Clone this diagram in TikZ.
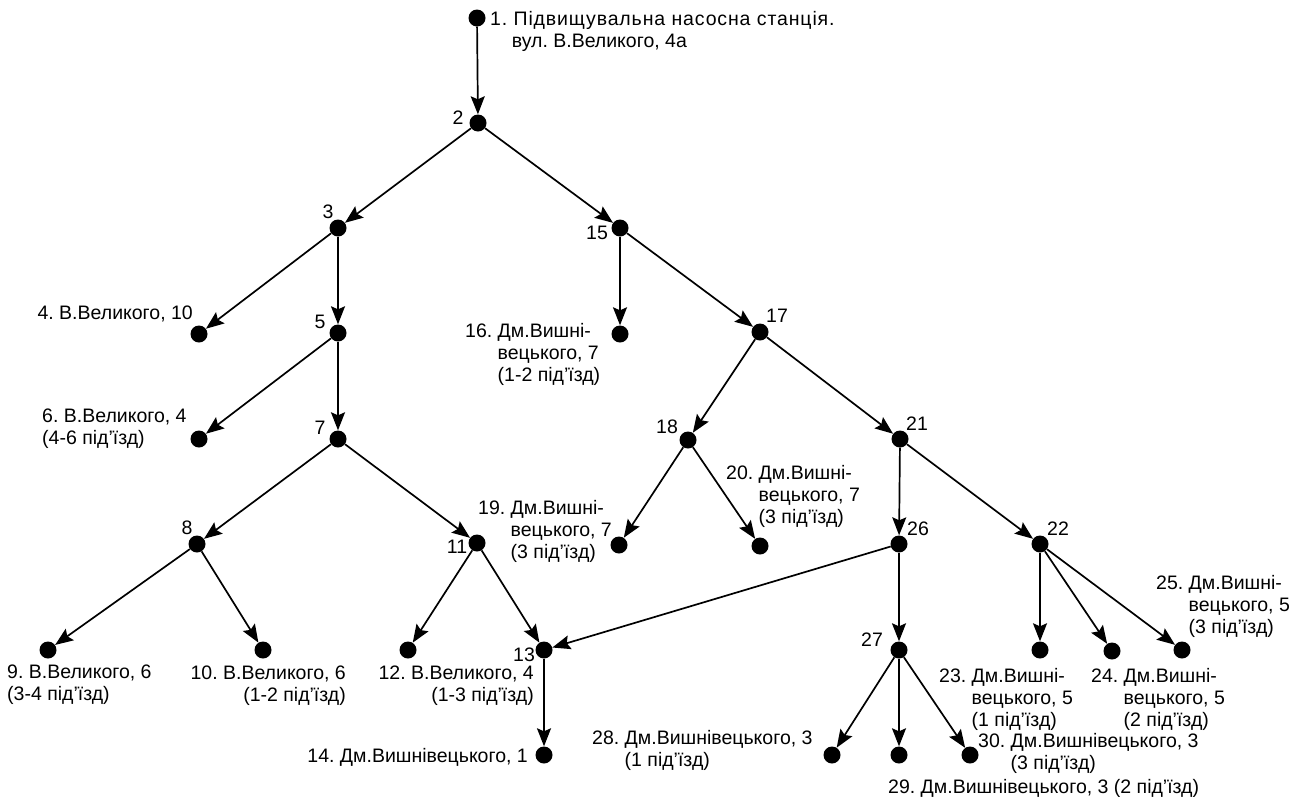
\documentclass[tikz,border=0pt]{standalone}
\usepackage{fontspec}
\setmainfont{Liberation Sans}
\usetikzlibrary{arrows.meta}
\frenchspacing
\begin{document}
\begin{tikzpicture}[x=1pt,y=-1pt,
  dot/.style={circle,fill=black,inner sep=0pt,minimum size=17pt},
  flow/.style={-{Stealth[length=18pt,width=14pt,inset=3pt]},line width=1.7pt},
  txt/.style={inner sep=0pt,font=\fontsize{19.5}{22}\selectfont,align=left},
  rtxt/.style={inner sep=0pt,font=\fontsize{19.5}{22}\selectfont,align=right},
  num/.style={inner sep=0pt,font=\fontsize{19.5}{22}\selectfont}]
\useasboundingbox (0,0) rectangle (1308,796);

% junctions and consumers
\node[dot] (n1) at (477,18) {};
\node[dot] (n2) at (478,123) {};
\node[dot] (n3) at (338,228) {};
\node[dot] (n15) at (620,228) {};
\node[dot] (n4) at (199,334) {};
\node[dot] (n5) at (338,333) {};
\node[dot] (n16) at (620,334) {};
\node[dot] (n17) at (760,332) {};
\node[dot] (n6) at (199,439) {};
\node[dot] (n7) at (338,439) {};
\node[dot] (n18) at (688,440) {};
\node[dot] (n21) at (900,439) {};
\node[dot] (n8) at (197,544) {};
\node[dot] (n11) at (477,543) {};
\node[dot] (n19) at (619,545) {};
\node[dot] (n20) at (760,546) {};
\node[dot] (n26) at (899,544) {};
\node[dot] (n22) at (1040,544) {};
\node[dot] (n9) at (48,650) {};
\node[dot] (n10) at (263,650) {};
\node[dot] (n12) at (408,650) {};
\node[dot] (n13) at (544,650) {};
\node[dot] (n27) at (899,650) {};
\node[dot] (n23) at (1040,650) {};
\node[dot] (n24) at (1112,651) {};
\node[dot] (n25) at (1182,650) {};
\node[dot] (n14) at (544,755) {};
\node[dot] (n28) at (832,755) {};
\node[dot] (n29) at (899,755) {};
\node[dot] (n30) at (970,755) {};

% flow directions
\draw[flow] (n1) -- (n2);
\draw[flow] (n2) -- (n3);
\draw[flow] (n2) -- (n15);
\draw[flow] (n3) -- (n4);
\draw[flow] (n3) -- (n5);
\draw[flow] (n5) -- (n6);
\draw[flow] (n5) -- (n7);
\draw[flow] (n7) -- (n8);
\draw[flow] (n7) -- (n11);
\draw[flow] (n8) -- (n9);
\draw[flow] (n8) -- (n10);
\draw[flow] (n11) -- (n12);
\draw[flow] (n11) -- (n13);
\draw[flow] (n13) -- (n14);
\draw[flow] (n15) -- (n16);
\draw[flow] (n15) -- (n17);
\draw[flow] (n17) -- (n18);
\draw[flow] (n17) -- (n21);
\draw[flow] (n18) -- (n19);
\draw[flow] (n18) -- (n20);
\draw[flow] (n21) -- (n26);
\draw[flow] (n21) -- (n22);
\draw[flow] (n26) -- (n13);
\draw[flow] (n26) -- (n27);
\draw[flow] (n27) -- (n28);
\draw[flow] (n27) -- (n29);
\draw[flow] (n27) -- (n30);
\draw[flow] (n22) -- (n23);
\draw[flow] (n22) -- (n24);
\draw[flow] (n22) -- (n25);

% junction numbers
\node[num] (t2) at (458,118) {2};
\node[num] (t3) at (328,212) {3};
\node[num] (t15) at (597,233) {15};
\node[num] (t5) at (320,322) {5};
\node[num] (t17) at (777,316) {17};
\node[num] (t7) at (320,428) {7};
\node[num] (t18) at (667,427) {18};
\node[num] (t21) at (917,424) {21};
\node[num] (t8) at (187,528) {8};
\node[num] (t11) at (457,547) {11};
\node[num] (t26) at (918,529) {26};
\node[num] (t22) at (1058,529) {22};
\node[num] (t13) at (524,655) {13};
\node[num] (t27) at (872,640) {27};

% consumer captions
\node[txt,anchor=north west] (l1) at (490,11) {{\addfontfeature{LetterSpace=4.5}1. Підвищувальна насосна станція.}\\\hphantom{1. }вул. В.Великого, 4а};
\node[txt,anchor=north east] (l4) at (193,306) {4. В.Великого, 10};
\node[txt,anchor=north west] (l6) at (42,409) {6. В.Великого, 4\\(4-6 під’їзд)};
\node[txt,anchor=north west] (l9) at (7,665) {9. В.Великого, 6\\(3-4 під’їзд)};
\node[rtxt,anchor=north east] (l10) at (346,666) {10. В.Великого, 6\\(1-2 під’їзд)};
\node[rtxt,anchor=north east] (l12) at (534,666) {12. В.Великого, 4\\(1-3 під’їзд)};
\node[txt,anchor=north east] (l14) at (528,748) {14. Дм.Вишнівецького, 1};
\node[txt,anchor=north west] (l16) at (465,323) {16. Дм.Вишні-\\\hphantom{16. }вецького, 7\\\hphantom{16. }(1-2 під’їзд)};
\node[txt,anchor=north west] (l19) at (478,500) {19. Дм.Вишні-\\\hphantom{19. }вецького, 7\\\hphantom{19. }(3 під’їзд)};
\node[txt,anchor=north west] (l20) at (726,465) {20. Дм.Вишні-\\\hphantom{20. }вецького, 7\\\hphantom{20. }(3 під’їзд)};
\node[txt,anchor=north west] (l23) at (939,668) {23. Дм.Вишні-\\\hphantom{23. }вецького, 5\\\hphantom{23. }(1 під’їзд)};
\node[txt,anchor=north west] (l24) at (1091,668) {24. Дм.Вишні-\\\hphantom{24. }вецького, 5\\\hphantom{24. }(2 під’їзд)};
\node[txt,anchor=north west] (l25) at (1156,575) {25. Дм.Вишні-\\\hphantom{25. }вецького, 5\\\hphantom{25. }(3 під’їзд)};
\node[txt,anchor=north west] (l28) at (592,730) {28. Дм.Вишнівецького, 3\\\hphantom{28. }(1 під’їзд)};
\node[txt,anchor=north west] (l30) at (978,733) {30. Дм.Вишнівецького, 3\\\hphantom{30. }(3 під’їзд)};
\node[txt,anchor=north west] (l29) at (888,779) {29. Дм.Вишнівецького, 3 (2 під’їзд)};
\end{tikzpicture}
\end{document}
